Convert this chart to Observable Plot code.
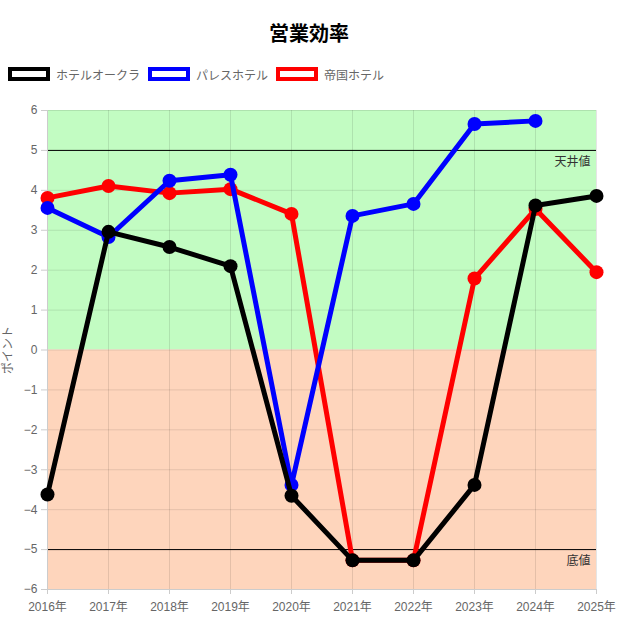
<!DOCTYPE html>
<html><head><meta charset="utf-8">
<script src="https://cdn.jsdelivr.net/npm/d3@7"></script>
<script src="https://cdn.jsdelivr.net/npm/@observablehq/plot@0.6"></script>
<style>
body{margin:0;background:#fff;font-family:"Liberation Sans","Noto Sans CJK JP",sans-serif;}
#wrap{width:618px;height:618px;}
#title{height:66px;line-height:66px;padding:0;width:618px;text-align:center;font-size:20px;font-weight:bold;color:#000;font-family:"Noto Sans CJK JP",sans-serif;}
#legend{height:24px;padding-left:8px;display:flex;align-items:flex-start;font-size:12px;color:#666;}
.li{display:flex;align-items:center;margin-right:8px;height:16px;}
.sw{width:34px;height:6px;border:4px solid;margin-right:6px;background:#fff;}
#chart{height:528px;}
#chart svg{display:block;}
</style></head>
<body><div id="wrap">
<div id="title">営業効率</div>
<div id="legend"></div>
<div id="chart"></div>
</div>
<script>
const years = ["2016年","2017年","2018年","2019年","2020年","2021年","2022年","2023年","2024年","2025年"];
const seriesNames = ["ホテルオークラ","パレスホテル","帝国ホテル"];
const seriesColors = ["#000000","#0000ff","#ff0000"];
const okura = [-3.62, 2.96, 2.58, 2.1, -3.65, -5.27, -5.27, -3.38, 3.62, 3.86];
const palace = [3.56, 2.83, 4.24, 4.39, -3.38, 3.36, 3.66, 5.66, 5.74, null];
const imperial = [3.81, 4.11, 3.93, 4.03, 3.41, -5.27, -5.27, 1.79, 3.53, 1.95];
const yTicks = [-6,-5,-4,-3,-2,-1,0,1,2,3,4,5,6];
const refLines = [{y:5,label:"天井値"},{y:-5,label:"底値"}];
const bands = [{y1:0,y2:6,fill:"#c2fcc2"},{y1:-6,y2:0,fill:"#fed5bc"}];

const lg = document.getElementById("legend");
seriesNames.forEach((n,i)=>{
  const d=document.createElement("div");d.className="li";
  d.innerHTML=`<span class="sw" style="border-color:${seriesColors[i]}"></span>${n}`;
  lg.appendChild(d);
});

const allSeries = [okura, palace, imperial];
const rows = [];
[2,1,0].forEach(si=>{
  allSeries[si].forEach((v,i)=>{ if(v!==null) rows.push({series:seriesNames[si], year:years[i], value:v}); });
});

const marks = [];
marks.push(Plot.rect(bands,{x1:()=>years[0],x2:()=>years[years.length-1],y1:"y1",y2:"y2",fill:d=>d.fill}));
marks.push(Plot.ruleX(years,{stroke:"#000",strokeOpacity:0.1}));
marks.push(Plot.ruleY(yTicks,{stroke:"#000",strokeOpacity:0.1}));
marks.push(Plot.ruleY(refLines,{y:"y",stroke:"#000",strokeWidth:1}));
marks.push(Plot.text(refLines,{x:()=>years[years.length-1],y:"y",text:"label",dx:-6,dy:12,textAnchor:"end",fill:"#333",fontSize:12}));
marks.push(Plot.axisX(years,{tickSize:5,stroke:"#ccc",fill:"#666",fontSize:12,tickPadding:8}));
marks.push(Plot.axisY(yTicks,{tickSize:6,stroke:"#ccc",fill:"#666",fontSize:12,tickPadding:4,label:null}));
marks.push(Plot.ruleX([years[0]],{stroke:"#ccc"}));
marks.push(Plot.ruleY([-6],{stroke:"#ccc"}));
[2,1,0].forEach(si=>{
  const data = rows.filter(r=>r.series===seriesNames[si]);
  marks.push(Plot.line(data,{x:"year",y:"value",stroke:seriesColors[si],strokeWidth:5,strokeLinejoin:"round"}));
  marks.push(Plot.dot(data,{x:"year",y:"value",fill:seriesColors[si],r:7}));
});

const chart = Plot.plot({
  width:618, height:528,
  marginLeft:47, marginRight:22, marginTop:20, marginBottom:29,
  style:{fontFamily:"'Liberation Sans','Noto Sans CJK JP',sans-serif",background:"transparent"},
  x:{type:"point",domain:years,padding:0,label:null},
  y:{domain:[-6,6],label:null},
  color:{type:"identity"},
  marks
});
document.getElementById("chart").appendChild(chart);

d3.select(chart).append("text").attr("transform","translate(12,260) rotate(-90)").attr("text-anchor","middle")
  .attr("fill","#666").attr("font-size",12).text("ポイント");
</script>
</body></html>
